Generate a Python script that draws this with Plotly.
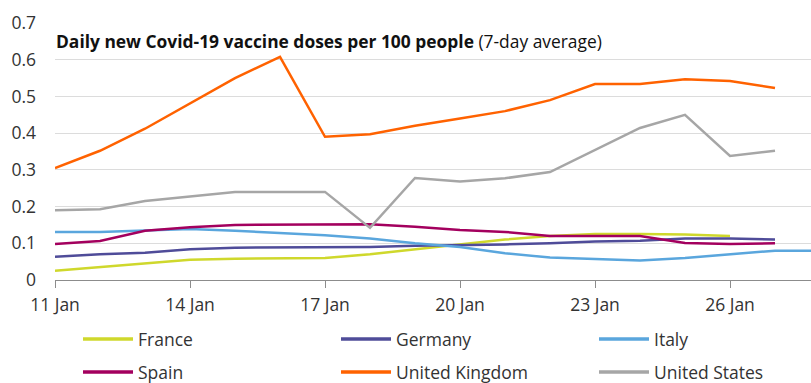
import plotly.graph_objects as go
import pandas as pd

dates = pd.date_range("2021-01-11", "2021-01-28").strftime("%Y-%m-%d").tolist()

france = [0.025, 0.035, 0.044, 0.055, 0.058, 0.060, 0.060, 0.070, 0.084, 0.097, 0.110, 0.120, 0.125, 0.125, 0.124, 0.120]
germany = [0.063, 0.070, 0.074, 0.084, 0.088, 0.088, 0.090, 0.090, 0.093, 0.096, 0.097, 0.100, 0.105, 0.107, 0.113, 0.113, 0.110]
italy = [0.131, 0.131, 0.135, 0.139, 0.134, 0.128, 0.122, 0.113, 0.100, 0.090, 0.073, 0.061, 0.056, 0.053, 0.060, 0.070, 0.080, 0.080]
spain = [0.098, 0.106, 0.134, 0.144, 0.150, 0.151, 0.152, 0.152, 0.145, 0.136, 0.131, 0.120, 0.120, 0.120, 0.101, 0.098, 0.100]
uk = [0.305, 0.352, 0.412, 0.480, 0.550, 0.608, 0.390, 0.397, 0.420, 0.440, 0.460, 0.490, 0.534, 0.534, 0.547, 0.542, 0.523]
us = [0.190, 0.193, 0.215, 0.227, 0.240, 0.240, 0.240, 0.142, 0.278, 0.268, 0.277, 0.294, 0.355, 0.414, 0.450, 0.338, 0.352]

series = [
    ("France", france, "#CFD82C"),
    ("Germany", germany, "#4F4C99"),
    ("Italy", italy, "#5AA6DD"),
    ("Spain", spain, "#A3005E"),
    ("United Kingdom", uk, "#FF6200"),
    ("United States", us, "#A6A6A6"),
]

tick_vals = ["2021-01-11", "2021-01-14", "2021-01-17", "2021-01-20", "2021-01-23", "2021-01-26"]
tick_text = ["11 Jan", "14 Jan", "17 Jan", "20 Jan", "23 Jan", "26 Jan"]
y_vals = [0, 0.1, 0.2, 0.3, 0.4, 0.5, 0.6, 0.7]
y_text = ["0", "0.1", "0.2", "0.3", "0.4", "0.5", "0.6", "0.7"]

FONT = "Open Sans"
W, H = 811, 383
ML, MR, MT, MB = 55, 0, 23, 103
PW, PH = W - ML - MR, H - MT - MB


def px_x(p):
    return (p - ML) / PW


def px_y(p):
    return (H - MB - p) / PH


fig = go.Figure()
for name, vals, col in series:
    fig.add_trace(go.Scatter(x=dates[:len(vals)], y=vals, name=name, mode="lines",
                             line=dict(color=col, width=2.5), showlegend=False))

# manual legend (3 columns x 2 rows, below the axis)
shapes, annotations = [], []
col_x = [83, 341, 599]
row_y = [339, 372]
for i, (name, vals, col) in enumerate(series):
    cx = col_x[i % 3]
    ry = row_y[i // 3]
    shapes.append(dict(type="line", xref="paper", yref="paper",
                       x0=px_x(cx), x1=px_x(cx + 50), y0=px_y(ry), y1=px_y(ry),
                       line=dict(color=col, width=3.5)))
    annotations.append(dict(text=name, xref="paper", yref="paper",
                            x=px_x(cx + 53), y=px_y(ry), xanchor="left", yanchor="middle",
                            showarrow=False, font=dict(family=FONT, size=17.5, color="#333333")))

annotations.append(dict(
    text="<b>Daily new Covid-19 vaccine doses per 100 people</b> (7-day average)",
    xref="paper", yref="paper", x=px_x(54), y=px_y(41), xanchor="left", yanchor="middle",
    showarrow=False, font=dict(family=FONT, size=17.4, color="#111111")))

fig.update_layout(
    width=W, height=H,
    margin=dict(l=ML, r=MR, t=MT, b=MB),
    plot_bgcolor="white", paper_bgcolor="white",
    font=dict(family=FONT, size=17, color="#333333"),
    showlegend=False,
    shapes=shapes,
    annotations=annotations,
)
fig.update_xaxes(type="date", range=["2021-01-11", "2021-01-27 19:12"],
                 tickvals=tick_vals, ticktext=tick_text,
                 showgrid=False, showline=True, linecolor="#8C8C8C", linewidth=1,
                 ticks="outside", ticklen=7, tickcolor="#8C8C8C",
                 tickfont=dict(size=17.5), zeroline=False, ticklabelstandoff=2)
fig.update_yaxes(range=[0, 0.7], tickvals=y_vals, ticktext=y_text,
                 showgrid=True, gridcolor="#DCDCDC", gridwidth=1,
                 zeroline=False, showline=False, ticks="",
                 ticklabelstandoff=18, tickfont=dict(size=17.5))

fig.write_html("out.html")
